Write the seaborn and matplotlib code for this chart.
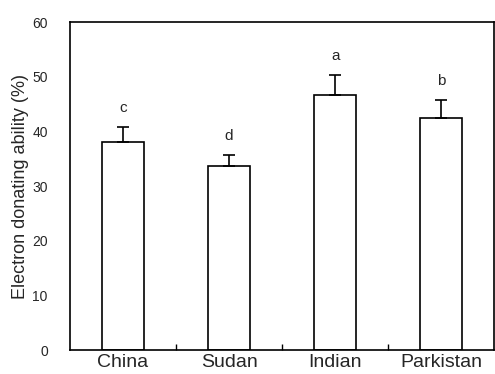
import matplotlib
matplotlib.use("Agg")
import matplotlib.pyplot as plt
import seaborn as sns
import numpy as np
import pandas as pd

countries = ["China", "Sudan", "Indian", "Parkistan"]
values = [38.1, 33.7, 46.6, 42.5]
errors = [2.7, 1.9, 3.7, 3.3]
letters = ["c", "d", "a", "b"]

sns.set_style("white")
plt.rcParams["font.family"] = ["Liberation Sans", "DejaVu Sans"]

df = pd.DataFrame({"country": countries, "value": values})

fig = plt.figure(figsize=(4.95, 3.74), dpi=100)
ax = fig.add_axes([0.1414, 0.064, 0.857, 0.877])

sns.barplot(data=df, x="country", y="value", color="white", edgecolor="black",
            linewidth=1.2, width=0.4, ax=ax)

x = np.arange(len(countries))
ax.errorbar(x, values, yerr=[np.zeros(len(errors)), errors], fmt="none",
            ecolor="black", elinewidth=1.2, capsize=4, capthick=1.2)

for xi, v, e, lab in zip(x, values, errors, letters):
    ax.text(xi, v + e + 2.2, lab, ha="center", va="bottom", fontsize=11)

ax.set_xlim(-0.5, 3.5)
ax.set_ylim(0, 60)
ax.set_yticks(range(0, 61, 10))
ax.set_xlabel("")
ax.set_ylabel("Electron donating ability (%)", fontsize=13, labelpad=2)
ax.tick_params(axis="y", length=0, labelsize=10, pad=16)
ax.tick_params(axis="x", length=0, labelsize=14, pad=3)
ax.set_xticks(x, countries)
ax.set_xticks([0.5, 1.5, 2.5], minor=True)
ax.tick_params(axis="x", which="minor", bottom=True, direction="in",
               length=4, width=1, color="black")

for s in ax.spines.values():
    s.set_visible(True)
    s.set_color("black")
    s.set_linewidth(1.2)

fig.savefig("out.png", dpi=100)
